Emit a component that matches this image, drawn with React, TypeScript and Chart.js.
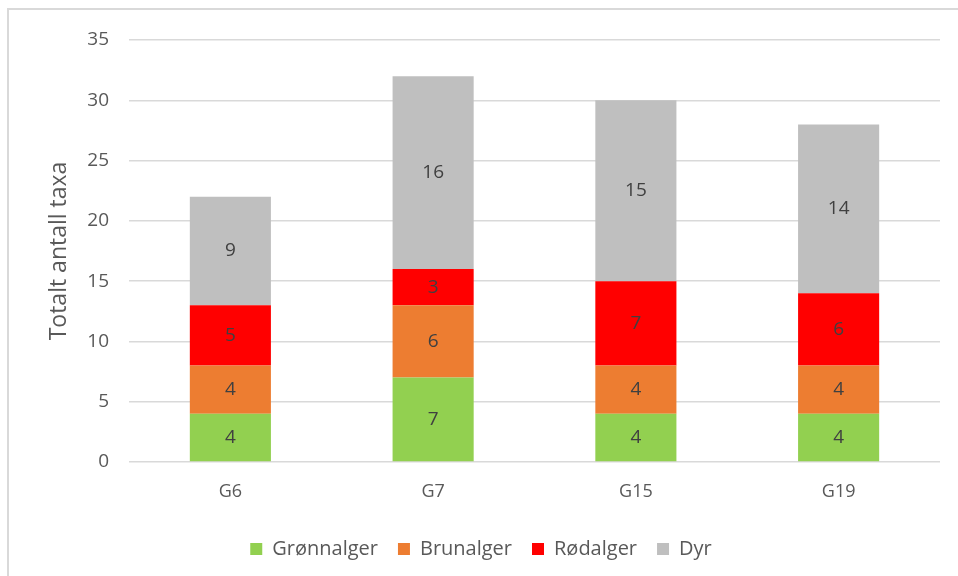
import React, { useEffect, useRef } from "react";
import { Chart, registerables } from "chart.js";

Chart.register(...registerables);

const categories = ["G6", "G7", "G15", "G19"];
const gronnalger = [4, 7, 4, 4];
const brunalger = [4, 6, 4, 4];
const rodalger = [5, 3, 7, 6];
const dyr = [9, 16, 15, 14];
const seriesNames = ["Grønnalger", "Brunalger", "Rødalger", "Dyr"];
const seriesColors = ["#92d050", "#ed7d31", "#ff0000", "#bfbfbf"];
const yTitle = "Totalt antall taxa";

const FONT = "'Open Sans', 'DejaVu Sans', sans-serif";

const labelPlugin = {
  id: "segLabels",
  afterDatasetsDraw(chart: any) {
    const ctx = chart.ctx;
    ctx.save();
    ctx.font = `19px ${FONT}`;
    ctx.fillStyle = "#404040";
    ctx.textAlign = "center";
    ctx.textBaseline = "middle";
    chart.data.datasets.forEach((ds: any, i: number) => {
      const meta = chart.getDatasetMeta(i);
      meta.data.forEach((el: any, j: number) => {
        const v = ds.data[j];
        const p = el.getProps(["x", "y", "base"], true);
        ctx.fillText(String(v), p.x, (p.y + p.base) / 2);
      });
    });
    ctx.restore();
  },
};

const legendShift = {
  id: "legendShift",
  afterLayout(chart: any) {
    if (chart.legend) {
      chart.legend.left += 11;
      chart.legend.right += 11;
    }
  },
};

export default function App() {
  const ref = useRef<HTMLCanvasElement | null>(null);
  useEffect(() => {
    if (!ref.current) return;
    const data = [gronnalger, brunalger, rodalger, dyr];
    const chart = new Chart(ref.current, {
      type: "bar",
      data: {
        labels: categories,
        datasets: data.map((d, i) => ({
          label: seriesNames[i],
          data: d,
          backgroundColor: seriesColors[i],
          borderWidth: 0,
          categoryPercentage: 1,
          barPercentage: 0.4,
        })),
      },
      options: {
        animation: false,
        responsive: false,
        layout: { padding: { left: 0, right: 18, top: 40, bottom: 7 } },
        plugins: {
          tooltip: { enabled: false },
          legend: {
            position: "bottom",
            labels: {
              boxWidth: 12,
              boxHeight: 12,
              padding: 20,
              color: "#595959",
              font: { family: FONT, size: 20 },
            },
          },
        },
        scales: {
          x: {
            stacked: true,
            grid: { display: false, drawTicks: false },
            border: { display: false },
            ticks: { color: "#595959", font: { family: FONT, size: 18 }, padding: 19 },
            afterFit: (s: any) => {
              s.height = 57;
            },
          },
          y: {
            stacked: true,
            min: 0,
            max: 35,
            ticks: { stepSize: 5, color: "#595959", font: { family: FONT, size: 19 }, padding: 20 },
            grid: { color: "#d9d9d9", lineWidth: 1.5, drawTicks: false },
            border: { display: false },
            title: {
              display: true,
              text: yTitle,
              color: "#595959",
              font: { family: FONT, size: 23 },
              padding: { top: 46, bottom: 0 },
            },
            afterFit: (s: any) => {
              s.width = 129;
            },
          },
        },
      },
      plugins: [labelPlugin, legendShift],
    } as any);
    return () => chart.destroy();
  }, []);
  return (
    <div style={{ position: "fixed", left: 0, top: 0, width: 958, height: 576, background: "#fff", overflow: "hidden" }}>
      <div
        style={{
          position: "absolute",
          left: 7,
          top: 8,
          width: 960,
          height: 580,
          border: "2px solid #d9d9d9",
        }}
      />
      <canvas ref={ref} width={958} height={576} style={{ position: "absolute", left: 0, top: 0 }} />
    </div>
  );
}
